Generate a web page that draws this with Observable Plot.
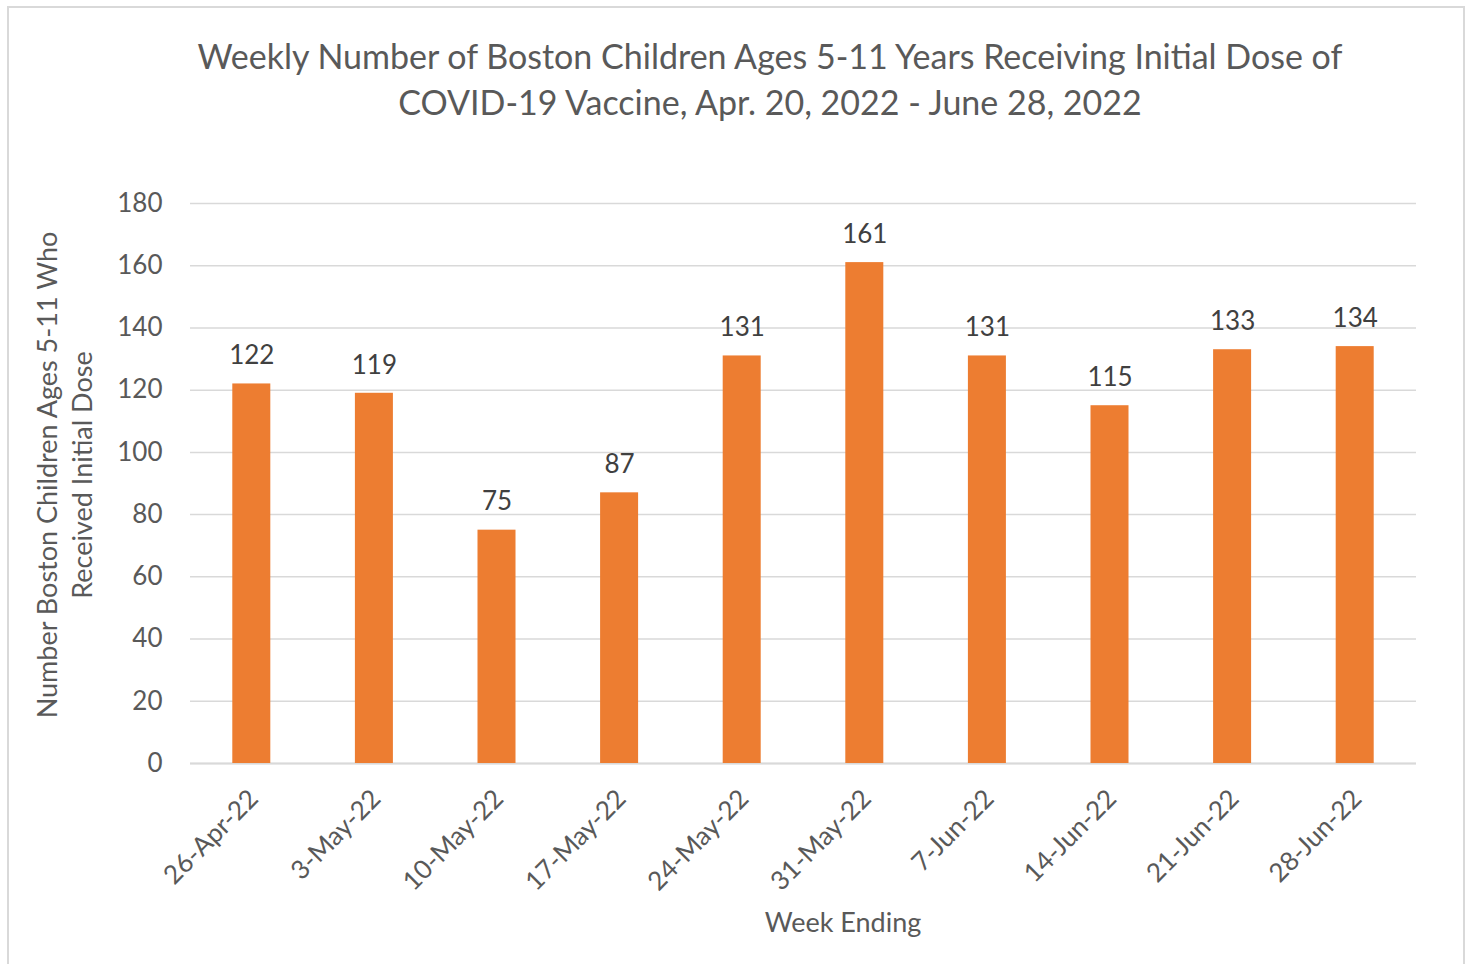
<!DOCTYPE html>
<html>
<head>
<meta charset="utf-8">
<script src="https://cdn.jsdelivr.net/npm/d3@7"></script>
<script src="https://cdn.jsdelivr.net/npm/@observablehq/plot@0.6"></script>
<style>
  html, body { margin: 0; padding: 0; background: #fff; overflow: hidden; }
  #wrap { position: relative; width: 1473px; height: 964px; font-family: Lato, "Open Sans", sans-serif; color: #595959; }
  #frame { position: absolute; left: 7px; top: 6px; width: 1458px; height: 980px; border: 2px solid #d9d9d9; box-sizing: border-box; }
  #title { position: absolute; left: 770px; top: 33px; transform: translateX(-50%); white-space: nowrap; text-align: center; font-size: 34px; line-height: 46px; color: #595959; }
  #ytitle { position: absolute; left: 64px; top: 475px; transform: translate(-50%, -50%) rotate(-90deg); white-space: nowrap; text-align: center; font-size: 27px; line-height: 35px; color: #595959; }
  #xtitle { position: absolute; left: 843px; top: 921px; transform: translate(-50%, -50%); white-space: nowrap; font-size: 27px; color: #595959; }
  #chart { position: absolute; left: 0; top: 0; }
</style>
</head>
<body>
<div id="wrap">
  <div id="frame"></div>
  <div id="chart"></div>
  <div id="title">Weekly Number of Boston Children Ages 5-11 Years Receiving Initial Dose of<br>COVID-19 Vaccine, Apr. 20, 2022 - June 28, 2022</div>
  <div id="ytitle">Number Boston Children Ages 5-11 Who<br>Received Initial Dose</div>
  <div id="xtitle">Week Ending</div>
</div>
<script>
const weeks = ["26-Apr-22", "3-May-22", "10-May-22", "17-May-22", "24-May-22", "31-May-22", "7-Jun-22", "14-Jun-22", "21-Jun-22", "28-Jun-22"];
const doses = [122, 119, 75, 87, 131, 161, 131, 115, 133, 134];
const yTicks = [0, 20, 40, 60, 80, 100, 120, 140, 160, 180];

const data = weeks.map((w, i) => ({week: w, n: doses[i]}));

const chart = Plot.plot({
  width: 1473,
  height: 964,
  marginTop: 203,
  marginBottom: 201,
  marginLeft: 190,
  marginRight: 57,
  x: {domain: weeks, paddingInner: 0.69, paddingOuter: 0.345, round: false, label: null},
  y: {domain: [0, 180], label: null},
  style: {fontFamily: "Lato, 'Open Sans', sans-serif", fontSize: "26px", color: "#595959", background: "transparent", overflow: "visible"},
  marks: [
    Plot.gridY(yTicks, {stroke: "#d9d9d9", strokeOpacity: 1, strokeWidth: 1.5}),
    Plot.axisY(yTicks, {tickSize: 0, tickPadding: 28, fontSize: 26, fill: "#595959", label: null}),
    Plot.ruleY([0], {stroke: "#d9d9d9", strokeWidth: 2}),
    Plot.barY(data, {x: "week", y: "n", fill: "#ed7d31"}),
    Plot.text(data, {x: "week", y: "n", text: d => String(d.n), dy: -28, fontSize: 26, fill: "#404040"}),
    Plot.axisX({tickSize: 0, tickRotate: -45, tickPadding: 31, dx: 2, fontSize: 26, fill: "#595959", label: null})
  ]
});
document.getElementById("chart").appendChild(chart);
</script>
</body>
</html>
